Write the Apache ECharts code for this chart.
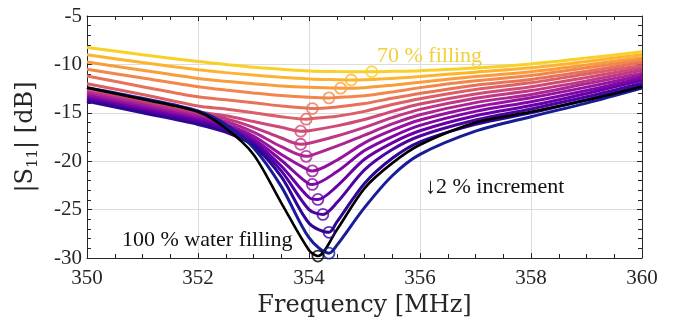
<!DOCTYPE html>
<html><head><meta charset="utf-8">
<script src="https://cdn.jsdelivr.net/npm/echarts@6/dist/echarts.min.js"></script>
<style>html,body{margin:0;padding:0;background:#fff}#c{width:674px;height:324px}</style>
</head><body><div id="c"></div>
<script>
// Frequency grid (MHz) shared by all curves
const freqGrid = [350, 351, 352, 352.5, 353, 353.5, 354, 354.5, 355, 355.5, 356, 357, 358, 359, 360];
// Filling levels (%)
const fillLevels = [70, 72, 74, 76, 78, 80, 82, 84, 86, 88, 90, 92, 94, 96, 98, 100];
// |S11| in dB on freqGrid for each filling level
const s11_70  = [-8.25, -9.0, -9.7, -10.0, -10.3, -10.5, -10.68, -10.74, -10.75, -10.72, -10.65, -10.38, -9.95, -9.35, -8.7];
const s11_72  = [-9.0, -9.8, -10.55, -10.85, -11.1, -11.33, -11.5, -11.58, -11.58, -11.45, -11.25, -10.8, -10.35, -9.7, -9.0];
const s11_74  = [-9.75, -10.6, -11.45, -11.75, -12.0, -12.23, -12.37, -12.44, -12.4, -12.15, -11.85, -11.25, -10.75, -10.05, -9.3];
const s11_76  = [-10.5, -11.4, -12.3, -12.65, -12.95, -13.22, -13.4, -13.42, -13.25, -12.85, -12.4, -11.7, -11.15, -10.35, -9.55];
const s11_78  = [-11.2, -12.3, -13.35, -13.65, -13.95, -14.3, -14.54, -14.4, -14.05, -13.5, -13.0, -12.15, -11.55, -10.7, -9.8];
const s11_80  = [-12.0, -13.1, -14.3, -14.6, -15.0, -15.4, -15.63, -15.35, -14.85, -14.15, -13.55, -12.6, -11.9, -11.0, -10.1];
const s11_82  = [-12.5, -13.7, -14.9, -15.3, -15.9, -16.5, -16.85, -16.35, -15.7, -14.85, -14.1, -13.05, -12.3, -11.35, -10.35];
const s11_84  = [-12.8, -13.95, -15.1, -15.6, -16.5, -17.6, -18.15, -17.4, -16.5, -15.5, -14.65, -13.5, -12.7, -11.7, -10.6];
const s11_86  = [-13.0, -14.15, -15.3, -15.9, -17.0, -18.5, -19.47, -18.45, -17.3, -16.15, -15.2, -13.95, -13.1, -12.0, -10.9];
const s11_88  = [-13.2, -14.35, -15.5, -16.2, -17.4, -19.3, -20.95, -19.9, -18.1, -16.8, -15.75, -14.4, -13.45, -12.35, -11.15];
const s11_90  = [-13.4, -14.55, -15.7, -16.4, -17.7, -19.9, -22.35, -21.1, -18.9, -17.45, -16.3, -14.85, -13.85, -12.7, -11.4];
const s11_92  = [-13.55, -14.7, -15.85, -16.6, -18.0, -20.5, -23.75, -22.6, -19.8, -18.1, -16.85, -15.3, -14.25, -13.0, -11.65];
const s11_94  = [-13.7, -14.85, -16.0, -16.8, -18.2, -21.0, -25.0, -24.3, -20.9, -18.8, -17.4, -15.75, -14.6, -13.35, -11.95];
const s11_96  = [-13.8, -15.0, -16.2, -17.0, -18.4, -21.6, -26.4, -26.3, -22.3, -19.7, -18.0, -16.2, -15.0, -13.65, -12.2];
const s11_98  = [-12.4, -13.5, -14.8, -16.2, -18.6, -22.6, -27.9, -28.7, -24.8, -21.5, -19.3, -16.9, -15.4, -14.0, -12.45];
const s11_100 = [-12.4, -13.6, -14.9, -16.6, -19.3, -24.3, -29.2, -27.1, -22.8, -20.2, -18.3, -16.0, -14.9, -13.7, -12.3];
// Resonance minima (circles)
const minFreq = [355.13, 354.76, 354.57, 354.36, 354.06, 353.95, 353.85, 353.85, 353.95, 354.06, 354.06, 354.16, 354.25, 354.36, 354.36, 354.16];
const minS11  = [-10.76, -11.61, -12.46, -13.46, -14.56, -15.66, -16.9, -18.25, -19.5, -21.0, -22.4, -23.95, -25.5, -27.35, -29.5, -29.8];
// Axis ticks
const xTickMin = 350, xTickMax = 360, xTickStep = 2;
const yTickMin = -30, yTickMax = -5, yTickStep = 5;

const curves = [s11_70, s11_72, s11_74, s11_76, s11_78, s11_80, s11_82, s11_84, s11_86, s11_88, s11_90, s11_92, s11_94, s11_96, s11_98, s11_100];
const palette = ['#f8d028','#fcb430','#f99c3c','#f3864a','#e87258','#dc5e67','#cf4b75','#be3884','#ac2693','#9613a0','#7f07a6','#6700a7','#4d03a0','#2e0595','#181c96','#000000'];

const tickFont = {fontFamily: 'Liberation Serif', fontSize: 21, color: '#262626'};
const series = [];
curves.forEach((vals, i) => {
  const pts = freqGrid.map((f, k) => [f, vals[k]]);
  pts.push([minFreq[i], minS11[i]]);
  pts.sort((a, b) => a[0] - b[0]);
  series.push({
    type: 'line', name: fillLevels[i] + ' %', data: pts,
    showSymbol: false, smooth: 0.3,
    lineStyle: {color: palette[i], width: i === 15 ? 2.6 : 3},
    silent: true, animation: false, z: 2 + i * 0.01
  });
});
series.push({
  type: 'scatter', silent: true, animation: false, z: 3,
  symbol: 'circle', symbolSize: 11,
  data: minFreq.map((f, i) => ({value: [f, minS11[i]], itemStyle: {color: 'rgba(0,0,0,0)', borderColor: palette[i], borderWidth: 1.8}}))
});

const axisLineStyle = {show: true, lineStyle: {color: '#262626', width: 1}};
const option = {
  animation: false,
  backgroundColor: '#fff',
  grid: {left: 87, right: 32, top: 16, bottom: 66, containLabel: false},
  xAxis: [{
    type: 'value', min: xTickMin, max: xTickMax, interval: xTickStep,
    axisLine: axisLineStyle,
    axisTick: {inside: true, length: 5, lineStyle: {color: '#262626'}},
    minorTick: {show: true, splitNumber: 4, length: 4, lineStyle: {color: '#262626'}},
    splitLine: {show: true, lineStyle: {color: '#dcdcdc', width: 1}},
    axisLabel: Object.assign({margin: 10}, tickFont),
    name: 'Frequency [MHz]', nameLocation: 'middle', nameGap: 36,
    nameTextStyle: {fontFamily: 'DejaVu Serif', fontSize: 24, color: '#262626'}
  }, {
    type: 'value', position: 'top', min: xTickMin, max: xTickMax, interval: xTickStep,
    axisLine: axisLineStyle,
    axisTick: {inside: true, length: 5, lineStyle: {color: '#262626'}},
    minorTick: {show: true, splitNumber: 4, length: 4, lineStyle: {color: '#262626'}},
    splitLine: {show: false}, axisLabel: {show: false}
  }],
  yAxis: [{
    type: 'value', min: yTickMin, max: yTickMax, interval: yTickStep,
    axisLine: axisLineStyle,
    axisTick: {inside: true, length: 5, lineStyle: {color: '#262626'}},
    minorTick: {show: true, splitNumber: 5, length: 4, lineStyle: {color: '#262626'}},
    splitLine: {show: true, lineStyle: {color: '#dcdcdc', width: 1}},
    axisLabel: Object.assign({margin: 5}, tickFont),
    name: '|S{s|11}| [dB]', nameLocation: 'middle', nameGap: 46,
    nameTextStyle: {fontFamily: 'DejaVu Serif', fontSize: 24, color: '#262626', lineHeight: 30,
      rich: {s: {fontFamily: 'DejaVu Serif', fontSize: 15, lineHeight: 14, verticalAlign: 'bottom', color: '#262626'}}}
  }, {
    type: 'value', position: 'right', min: yTickMin, max: yTickMax, interval: yTickStep,
    axisLine: axisLineStyle,
    axisTick: {inside: true, length: 5, lineStyle: {color: '#262626'}},
    minorTick: {show: true, splitNumber: 5, length: 4, lineStyle: {color: '#262626'}},
    splitLine: {show: false}, axisLabel: {show: false}
  }],
  graphic: [
    {type: 'text', x: 377, y: 56, z: 10, style: {text: '70 % filling', fontFamily: 'Liberation Serif', fontSize: 22, fill: '#f2d03a', align: 'left', verticalAlign: 'middle'}},
    {type: 'text', x: 425, y: 187, z: 10, style: {text: '↓2 % increment', fontFamily: 'Liberation Serif', fontSize: 22, fill: '#111', align: 'left', verticalAlign: 'middle'}},
    {type: 'text', x: 122, y: 240, z: 10, style: {text: '100 % water filling', fontFamily: 'Liberation Serif', fontSize: 22, fill: '#111', align: 'left', verticalAlign: 'middle'}}
  ],
  series: series
};
const chart = echarts.init(document.getElementById('c'), null, {renderer: 'canvas'});
chart.setOption(option);
</script></body></html>
